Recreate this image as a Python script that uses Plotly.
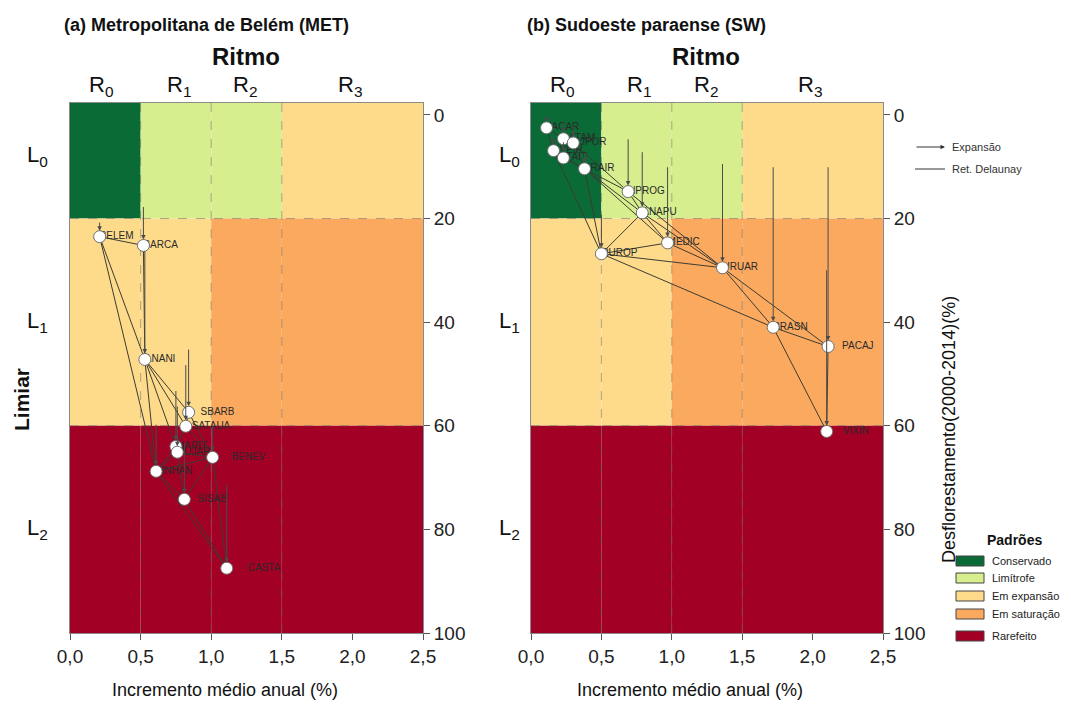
import plotly.graph_objects as go

# ---------------- DATA ----------------
ritmo_breaks = [0.0, 0.5, 1.0, 1.5, 2.5]
limiar_breaks = [0, 20, 60, 100]
zone_pattern = [
    ["Conservado", "Limítrofe", "Limítrofe", "Em expansão"],
    ["Em expansão", "Em expansão", "Em saturação", "Em saturação"],
    ["Rarefeito", "Rarefeito", "Rarefeito", "Rarefeito"],
]
pattern_names = ["Conservado", "Limítrofe", "Em expansão", "Em saturação", "Rarefeito"]
ritmo_labels = ["R<sub>0</sub>", "R<sub>1</sub>", "R<sub>2</sub>", "R<sub>3</sub>"]
ritmo_label_pos = [0.22, 0.77, 1.24, 1.98]
limiar_labels = ["L<sub>0</sub>", "L<sub>1</sub>", "L<sub>2</sub>"]
limiar_label_pos = [8, 40, 80]
x_tickvals = [0.0, 0.5, 1.0, 1.5, 2.0, 2.5]
x_ticktext = ["0,0", "0,5", "1,0", "1,5", "2,0", "2,5"]
y_tickvals = [0, 20, 40, 60, 80, 100]

# (a) Metropolitana de Belém
met_names = ["BELEM", "BARCA", "ANANI", "SBARB", "SATAUA", "MARIT", "BUJAR",
             "BENEV", "INHAN", "SISAB", "CASTA"]
met_incr = [0.21, 0.52, 0.53, 0.84, 0.82, 0.75, 0.76, 1.01, 0.61, 0.81, 1.11]
met_defor_2014 = [23.5, 25.2, 47.2, 57.4, 60.1, 64.0, 65.1, 66.1, 68.8, 74.2, 87.5]
met_defor_2000 = [20.5, 17.5, 26.0, 45.0, 48.0, 53.0, 56.0, 59.5, 59.5, 63.0, 71.0]
met_edges = [("BELEM", "BARCA"), ("BELEM", "ANANI"), ("BELEM", "INHAN"),
             ("BARCA", "ANANI"), ("ANANI", "SBARB"), ("ANANI", "SATAUA"),
             ("ANANI", "MARIT"), ("ANANI", "INHAN"), ("SBARB", "SATAUA"),
             ("SBARB", "BENEV"), ("SATAUA", "BENEV"), ("SATAUA", "MARIT"),
             ("MARIT", "BUJAR"), ("MARIT", "INHAN"), ("BUJAR", "BENEV"),
             ("BUJAR", "INHAN"), ("BUJAR", "SISAB"), ("INHAN", "SISAB"),
             ("BENEV", "SISAB"), ("INHAN", "CASTA"), ("SISAB", "CASTA"),
             ("BENEV", "CASTA"), ("INHAN", "BENEV")]

# (b) Sudoeste paraense
sw_names = ["JACAR", "ALTAM", "SJPOR", "AVEIR", "ITAIT", "TRAIR", "NPROG", "ANAPU",
            "MEDIC", "RUROP", "URUAR", "BRASN", "PACAJ", "VIXIN"]
sw_incr = [0.11, 0.23, 0.30, 0.16, 0.23, 0.38, 0.69, 0.79, 0.97, 0.50, 1.36, 1.72, 2.11, 2.10]
sw_defor_2014 = [2.5, 4.6, 5.4, 6.9, 8.3, 10.4, 14.8, 18.9, 24.7, 26.8, 29.5, 41.0, 44.7, 61.1]
sw_defor_2000 = [0.3, 1.2, 1.8, 4.0, 5.0, 7.0, 4.4, 6.9, 9.8, 19.0, 9.2, 9.8, 9.8, 29.7]
sw_edges = [("JACAR", "ALTAM"), ("JACAR", "AVEIR"), ("ALTAM", "SJPOR"), ("ALTAM", "AVEIR"),
            ("ALTAM", "ITAIT"), ("AVEIR", "ITAIT"), ("SJPOR", "ITAIT"), ("SJPOR", "TRAIR"),
            ("ITAIT", "TRAIR"), ("AVEIR", "TRAIR"), ("SJPOR", "NPROG"), ("TRAIR", "NPROG"),
            ("TRAIR", "ANAPU"), ("TRAIR", "RUROP"), ("TRAIR", "MEDIC"), ("AVEIR", "RUROP"),
            ("NPROG", "ANAPU"), ("NPROG", "URUAR"), ("ANAPU", "URUAR"), ("ANAPU", "MEDIC"),
            ("ANAPU", "RUROP"), ("MEDIC", "RUROP"), ("MEDIC", "URUAR"), ("RUROP", "URUAR"),
            ("RUROP", "BRASN"), ("URUAR", "BRASN"), ("URUAR", "PACAJ"), ("BRASN", "PACAJ"),
            ("BRASN", "VIXIN"), ("PACAJ", "VIXIN")]

# ---------------- STYLE ----------------
OFF = 8                      # page body margin in the browser
W, H = 1071 - 2 * OFF, 711 - 2 * OFF
FONT = "Arial, Liberation Sans, sans-serif"
pattern_colors = {"Conservado": "#0b6b36", "Limítrofe": "#d6ee8e",
                  "Em expansão": "#fddb8b", "Em saturação": "#fba95f",
                  "Rarefeito": "#a30025"}
label_gap = {"SBARB": 12, "SATAUA": 6, "BENEV": 19, "SISAB": 13, "CASTA": 21,
             "PACAJ": 14, "VIXIN": 16, "INHAN": 5}
Y_TOP = -2.3


def pxx(x):
    return (x - OFF) / W


def pxy(y):
    return 1 - (y - OFF) / H


fig = go.Figure()

panels = [
    dict(xa="x", ya="y", names=met_names, xs=met_incr, y1=met_defor_2014, y0=met_defor_2000,
         edges=met_edges),
    dict(xa="x2", ya="y2", names=sw_names, xs=sw_incr, y1=sw_defor_2014, y0=sw_defor_2000,
         edges=sw_edges),
]

shapes = []
annotations = []

for p in panels:
    xa, ya = p["xa"], p["ya"]
    for i in range(len(limiar_breaks) - 1):
        for j in range(len(ritmo_breaks) - 1):
            y0 = Y_TOP if i == 0 else limiar_breaks[i]
            shapes.append(dict(type="rect", xref=xa, yref=ya, layer="below",
                               x0=ritmo_breaks[j], x1=ritmo_breaks[j + 1],
                               y0=y0, y1=limiar_breaks[i + 1], line_width=0,
                               fillcolor=pattern_colors[zone_pattern[i][j]]))
    for xv in ritmo_breaks[1:-1]:
        shapes.append(dict(type="line", xref=xa, yref=ya, layer="below", x0=xv, x1=xv,
                           y0=Y_TOP, y1=100,
                           line=dict(color="rgba(100,100,100,0.5)", width=1, dash="dash")))
    for yv in limiar_breaks[1:-1]:
        shapes.append(dict(type="line", xref=xa, yref=ya, layer="below", x0=0, x1=2.5,
                           y0=yv, y1=yv,
                           line=dict(color="rgba(100,100,100,0.5)", width=1, dash="dash")))

    idx = {n: k for k, n in enumerate(p["names"])}
    ex, ey = [], []
    for a, b in p["edges"]:
        ex += [p["xs"][idx[a]], p["xs"][idx[b]], None]
        ey += [p["y1"][idx[a]], p["y1"][idx[b]], None]
    fig.add_trace(go.Scatter(x=ex, y=ey, xaxis=xa, yaxis=ya, mode="lines",
                             line=dict(color="#3c3c32", width=1), hoverinfo="skip",
                             showlegend=False))
    sizes = [max(0, (label_gap.get(n, 0) - 1) * 1.6) for n in p["names"]]
    fig.add_trace(go.Scatter(x=p["xs"], y=p["y1"], xaxis=xa, yaxis=ya, mode="markers+text",
                             text=p["names"], textposition="middle right",
                             textfont=dict(family=FONT, size=10, color="#2a2a2a"),
                             marker=dict(size=sizes, opacity=0), hoverinfo="skip",
                             showlegend=False))
    fig.add_trace(go.Scatter(x=p["xs"], y=p["y1"], xaxis=xa, yaxis=ya, mode="markers",
                             marker=dict(size=12, color="white",
                                         line=dict(color="#6e6e6e", width=1)),
                             text=p["names"], showlegend=False))
    for n, xv, a0, a1 in zip(p["names"], p["xs"], p["y0"], p["y1"]):
        annotations.append(dict(xref=xa, yref=ya, axref=xa, ayref=ya, x=xv, y=a1,
                                ax=xv, ay=a0, showarrow=True, arrowhead=2, arrowsize=0.9,
                                arrowwidth=1, arrowcolor="#4a4a4a", standoff=6, text=""))

common_x = dict(range=[0, 2.5], tickvals=x_tickvals, ticktext=x_ticktext, ticks="outside",
                ticklen=6, tickcolor="#555", showline=True, mirror=True, linecolor="#8a8a8a",
                showgrid=False, zeroline=False, automargin=False,
                tickfont=dict(family=FONT, size=19, color="#222"))
common_y = dict(range=[100, Y_TOP], tickvals=y_tickvals, ticks="outside", ticklen=6,
                tickcolor="#555", showline=True, mirror=True, linecolor="#8a8a8a",
                showgrid=False, zeroline=False, side="right", automargin=False,
                tickfont=dict(family=FONT, size=19, color="#222"))
ydom = [pxy(633), pxy(103)]


def txt(x, y, t, size, bold=False, xanchor="center", angle=0, color="#111"):
    annotations.append(dict(xref="paper", yref="paper", x=pxx(x), y=pxy(y), text=t,
                            showarrow=False, xanchor=xanchor, yanchor="middle",
                            textangle=angle,
                            font=dict(family=FONT, size=size, color=color,
                                      weight="bold" if bold else "normal")))


txt(62, 25, "(a) Metropolitana de Belém (MET)", 18, True, "left")
txt(525, 25, "(b) Sudoeste paraense (SW)", 18, True, "left")
txt(246, 57, "Ritmo", 24, True)
txt(706, 57, "Ritmo", 24, True)
for x0, scale in [(70, 141.2), (531, 140.8)]:
    for lab, pos in zip(ritmo_labels, ritmo_label_pos):
        txt(x0 + pos * scale, 86, lab, 22)
for xl in [37, 510]:
    for lab, pos in zip(limiar_labels, limiar_label_pos):
        txt(xl, 114 + pos * 5.19, lab, 22)
txt(21, 400, "Limiar", 21, True, angle=-90)
txt(225, 690, "Incremento médio anual (%)", 18)
txt(690, 690, "Incremento médio anual (%)", 18)
txt(949, 430, "Desflorestamento(2000-2014)(%)", 18, angle=-90)

annotations.append(dict(xref="paper", yref="paper", x=pxx(945), y=pxy(147), ax=-30, ay=0,
                        axref="pixel", ayref="pixel", showarrow=True, arrowhead=2,
                        arrowsize=0.9, arrowwidth=1, arrowcolor="#333", text=""))
shapes.append(dict(type="line", xref="paper", yref="paper", x0=pxx(915), x1=pxx(945),
                   y0=pxy(169), y1=pxy(169), line=dict(color="#333", width=1)))
txt(950, 147, "Expansão", 11, xanchor="left", color="#333")
txt(950, 169, "Ret. Delaunay", 11, xanchor="left", color="#333")

txt(1014, 540, "Padrões", 14, True)
leg_y = [561, 578, 596, 614, 636]
for name, yy in zip(pattern_names, leg_y):
    shapes.append(dict(type="rect", xref="paper", yref="paper", x0=pxx(956), x1=pxx(984),
                       y0=pxy(yy - 5), y1=pxy(yy + 5), fillcolor=pattern_colors[name],
                       line=dict(color="#444", width=1)))
    txt(990, yy, name, 11, xanchor="left", color="#222")

fig.update_layout(
    width=W, height=H, margin=dict(l=0, r=0, t=0, b=0, autoexpand=False),
    paper_bgcolor="white", plot_bgcolor="white", showlegend=False,
    font=dict(family=FONT),
    xaxis=dict(domain=[pxx(70), pxx(423)], anchor="y", **common_x),
    xaxis2=dict(domain=[pxx(531), pxx(883)], anchor="y2", **common_x),
    yaxis=dict(domain=ydom, anchor="x", **common_y),
    yaxis2=dict(domain=ydom, anchor="x2", **common_y),
    shapes=shapes, annotations=annotations,
)

fig.write_html("out.html")
